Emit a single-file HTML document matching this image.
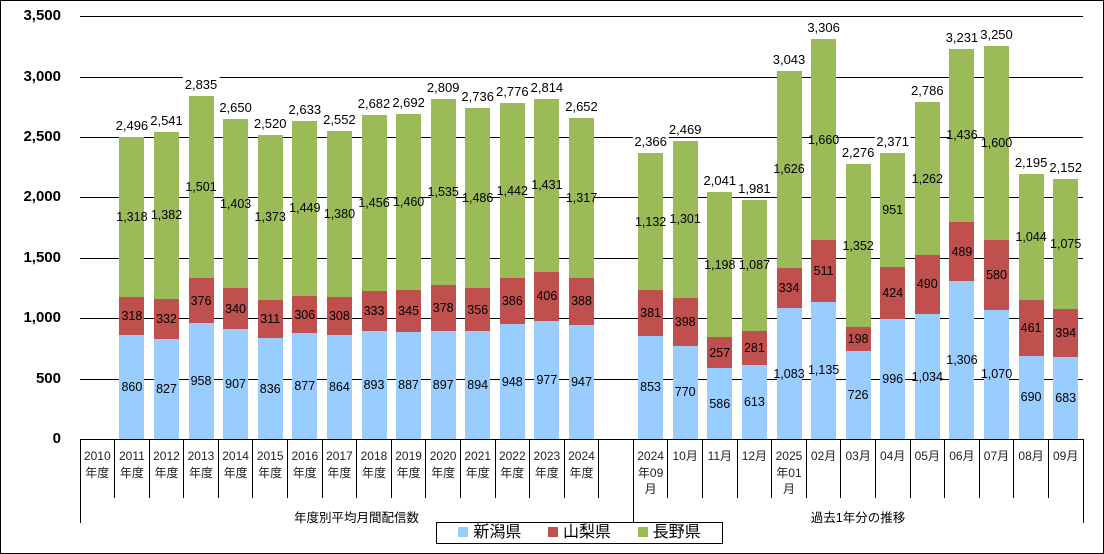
<!DOCTYPE html>
<html><head><meta charset="utf-8">
<style>
*{margin:0;padding:0;box-sizing:border-box}
body{width:1104px;height:554px;background:#fff;position:relative;overflow:hidden;font-family:"Liberation Sans","Noto Sans CJK JP",sans-serif;color:#000}
#frame{position:absolute;left:0;top:0;width:1104px;height:554px;border:1px solid #000}
.grid{position:absolute;left:80px;width:1003px;height:1px;background:#000}
.yl{position:absolute;left:0;width:61px;text-align:right;font-size:15px;font-weight:bold;line-height:16px}
.bar{position:absolute;bottom:115px;width:25px;display:flex;flex-direction:column-reverse;font-size:12.5px}
.seg{width:25px;display:flex;align-items:center;justify-content:center;white-space:nowrap;overflow:visible}
.seg span{display:block}
.n{background:#99CCFF}.y{background:#C0504D}.g{background:#9BBB59}
.tot{position:absolute;left:50%;transform:translateX(-50%);bottom:100%;margin-bottom:4px;background:#fff;padding:0 2px;white-space:nowrap;font-size:13px;font-weight:normal;line-height:15px}
.v{position:absolute;width:1px;background:#000;top:439px}
.cat{position:absolute;top:448px;width:34.6px;text-align:center;font-size:12px;line-height:16.5px;color:#222}
.grp{position:absolute;top:507px;font-size:12.5px;text-align:center}
#leg{position:absolute;left:436px;top:522px;width:287px;height:22px;border:1px solid #000;font-size:16px;line-height:20px;display:flex;justify-content:space-around;align-items:center;padding:0 8px}
#leg i{display:inline-block;width:10px;height:10px;margin-right:5px;vertical-align:0}
</style></head><body>
<div id="frame"></div>
<div class="grid" style="top:16px"></div>
<div class="grid" style="top:77px"></div>
<div class="grid" style="top:137px"></div>
<div class="grid" style="top:197px"></div>
<div class="grid" style="top:258px"></div>
<div class="grid" style="top:318px"></div>
<div class="grid" style="top:379px"></div>
<div class="grid" style="top:439px"></div>
<div class="yl" style="top:8px">3,500</div>
<div class="yl" style="top:69px">3,000</div>
<div class="yl" style="top:129px">2,500</div>
<div class="yl" style="top:189px">2,000</div>
<div class="yl" style="top:250px">1,500</div>
<div class="yl" style="top:310px">1,000</div>
<div class="yl" style="top:371px">500</div>
<div class="yl" style="top:431px">0</div>

<div class="bar" style="left:119.4px"><div class="seg n" style="height:103.9px"><span>860</span></div><div class="seg y" style="height:38.4px"><span>318</span></div><div class="seg g" style="height:159.3px;position:relative"><span>1,318</span><div class="tot">2,496</div></div></div>
<div class="bar" style="left:154.0px"><div class="seg n" style="height:100.0px"><span>827</span></div><div class="seg y" style="height:40.1px"><span>332</span></div><div class="seg g" style="height:167.0px;position:relative"><span>1,382</span><div class="tot">2,541</div></div></div>
<div class="bar" style="left:188.5px"><div class="seg n" style="height:115.8px"><span>958</span></div><div class="seg y" style="height:45.4px"><span>376</span></div><div class="seg g" style="height:181.4px;position:relative"><span>1,501</span><div class="tot">2,835</div></div></div>
<div class="bar" style="left:223.1px"><div class="seg n" style="height:109.6px"><span>907</span></div><div class="seg y" style="height:41.1px"><span>340</span></div><div class="seg g" style="height:169.6px;position:relative"><span>1,403</span><div class="tot">2,650</div></div></div>
<div class="bar" style="left:257.7px"><div class="seg n" style="height:101.0px"><span>836</span></div><div class="seg y" style="height:37.6px"><span>311</span></div><div class="seg g" style="height:165.9px;position:relative"><span>1,373</span><div class="tot">2,520</div></div></div>
<div class="bar" style="left:292.3px"><div class="seg n" style="height:106.0px"><span>877</span></div><div class="seg y" style="height:37.0px"><span>306</span></div><div class="seg g" style="height:175.1px;position:relative"><span>1,449</span><div class="tot">2,633</div></div></div>
<div class="bar" style="left:326.9px"><div class="seg n" style="height:104.4px"><span>864</span></div><div class="seg y" style="height:37.2px"><span>308</span></div><div class="seg g" style="height:166.8px;position:relative"><span>1,380</span><div class="tot">2,552</div></div></div>
<div class="bar" style="left:361.5px"><div class="seg n" style="height:107.9px"><span>893</span></div><div class="seg y" style="height:40.2px"><span>333</span></div><div class="seg g" style="height:176.0px;position:relative"><span>1,456</span><div class="tot">2,682</div></div></div>
<div class="bar" style="left:396.1px"><div class="seg n" style="height:107.2px"><span>887</span></div><div class="seg y" style="height:41.7px"><span>345</span></div><div class="seg g" style="height:176.5px;position:relative"><span>1,460</span><div class="tot">2,692</div></div></div>
<div class="bar" style="left:430.7px"><div class="seg n" style="height:108.4px"><span>897</span></div><div class="seg y" style="height:45.7px"><span>378</span></div><div class="seg g" style="height:185.5px;position:relative"><span>1,535</span><div class="tot">2,809</div></div></div>
<div class="bar" style="left:465.2px"><div class="seg n" style="height:108.0px"><span>894</span></div><div class="seg y" style="height:43.0px"><span>356</span></div><div class="seg g" style="height:179.6px;position:relative"><span>1,486</span><div class="tot">2,736</div></div></div>
<div class="bar" style="left:499.8px"><div class="seg n" style="height:114.6px"><span>948</span></div><div class="seg y" style="height:46.7px"><span>386</span></div><div class="seg g" style="height:174.3px;position:relative"><span>1,442</span><div class="tot">2,776</div></div></div>
<div class="bar" style="left:534.4px"><div class="seg n" style="height:118.1px"><span>977</span></div><div class="seg y" style="height:49.1px"><span>406</span></div><div class="seg g" style="height:172.9px;position:relative"><span>1,431</span><div class="tot">2,814</div></div></div>
<div class="bar" style="left:569.0px"><div class="seg n" style="height:114.5px"><span>947</span></div><div class="seg y" style="height:46.9px"><span>388</span></div><div class="seg g" style="height:159.2px;position:relative"><span>1,317</span><div class="tot">2,652</div></div></div>

<div class="bar" style="left:638.1px"><div class="seg n" style="height:103.1px"><span>853</span></div><div class="seg y" style="height:46.0px"><span>381</span></div><div class="seg g" style="height:136.8px;position:relative"><span>1,132</span><div class="tot">2,366</div></div></div>
<div class="bar" style="left:672.7px"><div class="seg n" style="height:93.1px"><span>770</span></div><div class="seg y" style="height:48.1px"><span>398</span></div><div class="seg g" style="height:157.2px;position:relative"><span>1,301</span><div class="tot">2,469</div></div></div>
<div class="bar" style="left:707.3px"><div class="seg n" style="height:70.8px"><span>586</span></div><div class="seg y" style="height:31.1px"><span>257</span></div><div class="seg g" style="height:144.8px;position:relative"><span>1,198</span><div class="tot">2,041</div></div></div>
<div class="bar" style="left:741.9px"><div class="seg n" style="height:74.1px"><span>613</span></div><div class="seg y" style="height:34.0px"><span>281</span></div><div class="seg g" style="height:131.4px;position:relative"><span>1,087</span><div class="tot">1,981</div></div></div>
<div class="bar" style="left:776.5px"><div class="seg n" style="height:130.9px"><span>1,083</span></div><div class="seg y" style="height:40.4px"><span>334</span></div><div class="seg g" style="height:196.5px;position:relative"><span>1,626</span><div class="tot">3,043</div></div></div>
<div class="bar" style="left:811.1px"><div class="seg n" style="height:137.2px"><span>1,135</span></div><div class="seg y" style="height:61.8px"><span>511</span></div><div class="seg g" style="height:200.6px;position:relative"><span>1,660</span><div class="tot">3,306</div></div></div>
<div class="bar" style="left:845.6px"><div class="seg n" style="height:87.7px"><span>726</span></div><div class="seg y" style="height:23.9px"><span>198</span></div><div class="seg g" style="height:163.4px;position:relative"><span>1,352</span><div class="tot">2,276</div></div></div>
<div class="bar" style="left:880.2px"><div class="seg n" style="height:120.4px"><span>996</span></div><div class="seg y" style="height:51.2px"><span>424</span></div><div class="seg g" style="height:114.9px;position:relative"><span>951</span><div class="tot">2,371</div></div></div>
<div class="bar" style="left:914.8px"><div class="seg n" style="height:125.0px"><span>1,034</span></div><div class="seg y" style="height:59.2px"><span>490</span></div><div class="seg g" style="height:152.5px;position:relative"><span>1,262</span><div class="tot">2,786</div></div></div>
<div class="bar" style="left:949.4px"><div class="seg n" style="height:157.8px"><span>1,306</span></div><div class="seg y" style="height:59.1px"><span>489</span></div><div class="seg g" style="height:173.6px;position:relative"><span>1,436</span><div class="tot">3,231</div></div></div>
<div class="bar" style="left:984.0px"><div class="seg n" style="height:129.3px"><span>1,070</span></div><div class="seg y" style="height:70.1px"><span>580</span></div><div class="seg g" style="height:193.4px;position:relative"><span>1,600</span><div class="tot">3,250</div></div></div>
<div class="bar" style="left:1018.6px"><div class="seg n" style="height:83.4px"><span>690</span></div><div class="seg y" style="height:55.7px"><span>461</span></div><div class="seg g" style="height:126.2px;position:relative"><span>1,044</span><div class="tot">2,195</div></div></div>
<div class="bar" style="left:1053.2px"><div class="seg n" style="height:82.5px"><span>683</span></div><div class="seg y" style="height:47.6px"><span>394</span></div><div class="seg g" style="height:129.9px;position:relative"><span>1,075</span><div class="tot">2,152</div></div></div>

<div class="v" style="left:79.5px;height:84px"></div>
<div class="v" style="left:114.1px;height:59px"></div>
<div class="v" style="left:148.7px;height:59px"></div>
<div class="v" style="left:183.2px;height:59px"></div>
<div class="v" style="left:217.8px;height:59px"></div>
<div class="v" style="left:252.4px;height:59px"></div>
<div class="v" style="left:287.0px;height:59px"></div>
<div class="v" style="left:321.6px;height:59px"></div>
<div class="v" style="left:356.2px;height:59px"></div>
<div class="v" style="left:390.8px;height:59px"></div>
<div class="v" style="left:425.3px;height:59px"></div>
<div class="v" style="left:459.9px;height:59px"></div>
<div class="v" style="left:494.5px;height:59px"></div>
<div class="v" style="left:529.1px;height:59px"></div>
<div class="v" style="left:563.7px;height:59px"></div>
<div class="v" style="left:598.3px;height:59px"></div>
<div class="v" style="left:632.8px;height:84px"></div>
<div class="v" style="left:667.4px;height:59px"></div>
<div class="v" style="left:702.0px;height:59px"></div>
<div class="v" style="left:736.6px;height:59px"></div>
<div class="v" style="left:771.2px;height:59px"></div>
<div class="v" style="left:805.8px;height:59px"></div>
<div class="v" style="left:840.4px;height:59px"></div>
<div class="v" style="left:874.9px;height:59px"></div>
<div class="v" style="left:909.5px;height:59px"></div>
<div class="v" style="left:944.1px;height:59px"></div>
<div class="v" style="left:978.7px;height:59px"></div>
<div class="v" style="left:1013.3px;height:59px"></div>
<div class="v" style="left:1047.9px;height:59px"></div>
<div class="v" style="left:1082.5px;height:84px"></div>

<div class="cat" style="left:80.0px">2010<br>年度</div>
<div class="cat" style="left:114.6px">2011<br>年度</div>
<div class="cat" style="left:149.2px">2012<br>年度</div>
<div class="cat" style="left:183.7px">2013<br>年度</div>
<div class="cat" style="left:218.3px">2014<br>年度</div>
<div class="cat" style="left:252.9px">2015<br>年度</div>
<div class="cat" style="left:287.5px">2016<br>年度</div>
<div class="cat" style="left:322.1px">2017<br>年度</div>
<div class="cat" style="left:356.7px">2018<br>年度</div>
<div class="cat" style="left:391.3px">2019<br>年度</div>
<div class="cat" style="left:425.8px">2020<br>年度</div>
<div class="cat" style="left:460.4px">2021<br>年度</div>
<div class="cat" style="left:495.0px">2022<br>年度</div>
<div class="cat" style="left:529.6px">2023<br>年度</div>
<div class="cat" style="left:564.2px">2024<br>年度</div>
<div class="cat" style="left:633.3px">2024<br>年09<br>月</div>
<div class="cat" style="left:667.9px">10月</div>
<div class="cat" style="left:702.5px">11月</div>
<div class="cat" style="left:737.1px">12月</div>
<div class="cat" style="left:771.7px">2025<br>年01<br>月</div>
<div class="cat" style="left:806.3px">02月</div>
<div class="cat" style="left:840.9px">03月</div>
<div class="cat" style="left:875.4px">04月</div>
<div class="cat" style="left:910.0px">05月</div>
<div class="cat" style="left:944.6px">06月</div>
<div class="cat" style="left:979.2px">07月</div>
<div class="cat" style="left:1013.8px">08月</div>
<div class="cat" style="left:1048.4px">09月</div>

<div class="grp" style="left:80px;width:553px">年度別平均月間配信数</div>
<div class="grp" style="left:633px;width:450px">過去1年分の推移</div>

<div id="leg"><span><i style="background:#99CCFF"></i>新潟県</span><span><i style="background:#C0504D"></i>山梨県</span><span><i style="background:#9BBB59"></i>長野県</span></div>
</body></html>
